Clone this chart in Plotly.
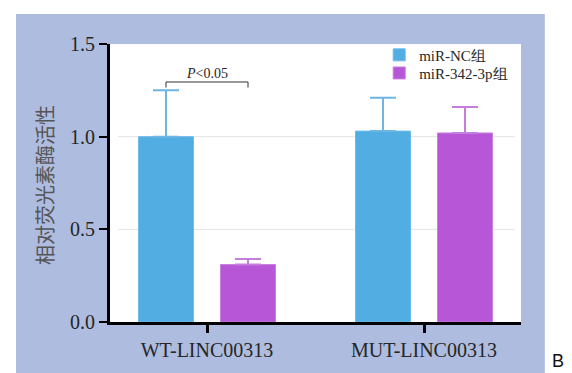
import plotly.graph_objects as go

categories = ["WT-LINC00313", "MUT-LINC00313"]
series_names = ["miR-NC组", "miR-342-3p组"]
nc_values = [1.00, 1.03]
nc_err = [0.25, 0.18]
mir_values = [0.31, 1.02]
mir_err = [0.03, 0.14]
y_ticks = [0.0, 0.5, 1.0, 1.5]
y_title = "相对荧光素酶活性"
sig_label = "<i>P</i><0.05"
panel_label = "B"

blue = "#52ADE3"
purple = "#B856D8"
serif = "Liberation Serif, Times New Roman, serif"
txt = "#262626"

fig = go.Figure()
fig.add_trace(go.Bar(
    x=categories, y=nc_values, name=series_names[0], legend="legend",
    marker=dict(color=blue, line=dict(color="#6CBBE8", width=1)),
    error_y=dict(type="data", array=nc_err, arrayminus=[0, 0], symmetric=False,
                 color="#6DB5E2", thickness=2, width=13),
))
fig.add_trace(go.Bar(
    x=categories, y=mir_values, name=series_names[1], legend="legend2",
    marker=dict(color=purple, line=dict(color="#C780E0", width=1)),
    error_y=dict(type="data", array=mir_err, arrayminus=[0, 0], symmetric=False,
                 color="#C57EDE", thickness=2, width=13),
))

shapes = [
    dict(type="rect", xref="paper", yref="paper", x0=-0.2287, x1=1.058, y0=-0.25, y1=1.108,
         fillcolor="#ADBCDF", line=dict(width=0), layer="below"),
    dict(type="rect", xref="paper", yref="paper", x0=0, x1=1, y0=0, y1=1,
         fillcolor="white", line=dict(width=0), layer="below"),
]
for t in y_ticks[1:-1]:
    shapes.append(dict(type="line", xref="x domain", yref="y", x0=0.02, x1=0.985, y0=t, y1=t,
                       line=dict(color="#E3E3E3", width=1), layer="below"))

# significance bracket between the two WT bars
off = 0.189
top = max(nc_values[0] + nc_err[0], mir_values[0] + mir_err[0]) + 0.045
shapes.append(dict(type="path", xref="x", yref="y",
                   path=f"M {0-off},{top-0.03} L {0-off},{top} L {0+off},{top} L {0+off},{top-0.03}",
                   line=dict(color="#333333", width=1)))
fig.update_layout(shapes=shapes)

fig.add_annotation(x=0, y=top, xref="x", yref="y", text=sig_label, showarrow=False,
                   yanchor="bottom", yshift=-1, font=dict(family=serif, size=14, color=txt))
fig.add_annotation(x=-0.158, y=0.493, xref="paper", yref="paper", text=y_title, showarrow=False,
                   xanchor="center", yanchor="middle",
                   textangle=-90, font=dict(family="Noto Sans CJK SC", size=20, color="#555555"))
fig.add_annotation(x=1.090, y=-0.14, xref="paper", yref="paper", text=panel_label, showarrow=False,
                   xanchor="center", yanchor="middle",
                   font=dict(family="Liberation Sans, Arial", size=18, color="#111111"))

leg_common = dict(xanchor="left", yanchor="middle", bgcolor="rgba(0,0,0,0)",
                  font=dict(family=serif, size=15, color=txt), itemwidth=30)
fig.update_layout(
    width=572, height=373,
    margin=dict(l=110, r=51, t=44, b=51),
    paper_bgcolor="white", plot_bgcolor="white",
    barmode="group", bargap=0.244, bargroupgap=0.33,
    showlegend=True,
    legend=dict(x=0.655, y=0.96, **leg_common),
    legend2=dict(x=0.655, y=0.895, **leg_common),
    xaxis=dict(type="category", range=[-0.447, 1.447], showline=True, linecolor="black", linewidth=3,
               ticks="outside", ticklen=8, tickwidth=3, tickcolor="black",
               tickfont=dict(family=serif, size=20, color=txt), showgrid=False),
    yaxis=dict(range=[0, 1.5], tickvals=y_ticks, tickformat=".1f", showline=True, linecolor="black",
               linewidth=3, ticks="outside", ticklen=8, tickwidth=2, tickcolor="black",
               tickfont=dict(family=serif, size=20, color=txt), showgrid=False, zeroline=False),
)

fig.write_html("out.html")
